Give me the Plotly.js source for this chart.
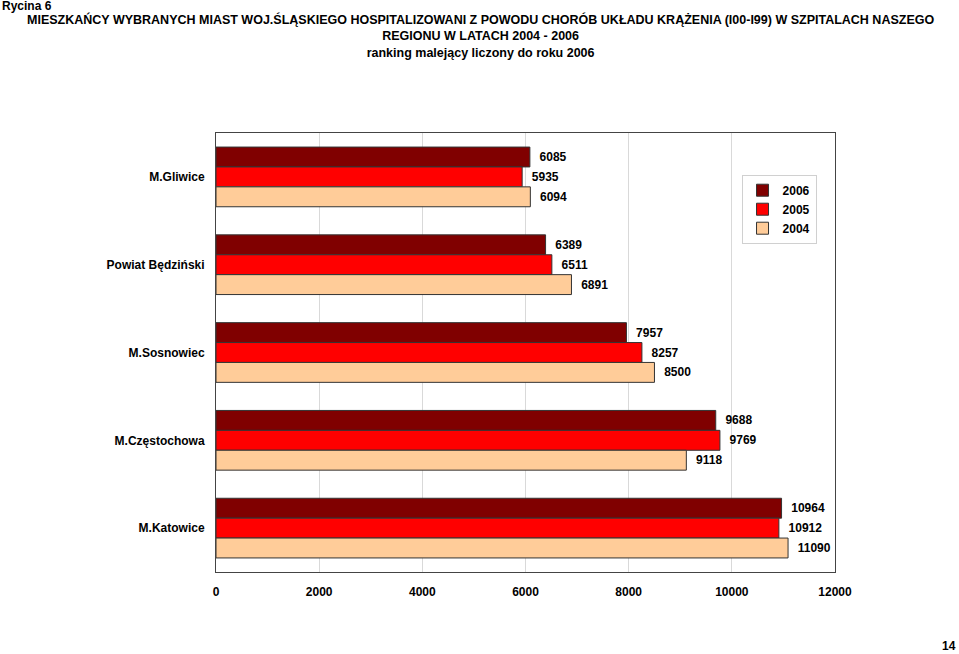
<!DOCTYPE html>
<html>
<head>
<meta charset="utf-8">
<script src="https://cdn.plot.ly/plotly-3.0.1.min.js"></script>
<style>html,body{margin:0;padding:0;background:#fff;}#chart{width:959px;height:654px;}</style>
</head>
<body>
<div id="chart"></div>
<script>
const categories = ["M.Gliwice", "Powiat Będziński", "M.Sosnowiec", "M.Częstochowa", "M.Katowice"];
const seriesNames = ["2006", "2005", "2004"];
const values2006 = [6085, 6389, 7957, 9688, 10964];
const values2005 = [5935, 6511, 8257, 9769, 10912];
const values2004 = [6094, 6891, 8500, 9118, 11090];
const colors = ["#800000", "#FF0000", "#FFCC99"];
const xTicks = [0, 2000, 4000, 6000, 8000, 10000, 12000];

const allValues = [values2006, values2005, values2004];
const font = "Liberation Sans, Arial, sans-serif";

const traces = allValues.map((vals, i) => ({
  type: "bar",
  orientation: "h",
  name: seriesNames[i],
  y: categories,
  x: vals,
  text: vals.map(String),
  texttemplate: "  %{text}",
  textposition: "outside",
  cliponaxis: false,
  textfont: {family: font, size: 12, color: "#000", weight: "bold"},
  marker: {color: colors[i], line: {color: "#333", width: 1}},
  hoverinfo: "none"
}));

const layout = {
  width: 959, height: 654,
  margin: {l: 216, r: 124, t: 133, b: 82},
  paper_bgcolor: "#fff", plot_bgcolor: "#fff",
  barmode: "group",
  bargap: 0.32,
  bargroupgap: 0,
  showlegend: true,
  legend: {
    x: 0.849, y: 0.905, xanchor: "left", yanchor: "top",
    bordercolor: "#d0d0d0", borderwidth: 1,
    font: {family: font, size: 12, color: "#000", weight: "bold"},
    tracegroupgap: 2, itemwidth: 30
  },
  xaxis: {
    range: [0, 12000],
    tickvals: xTicks,
    ticktext: xTicks.map(String),
    showgrid: true, gridcolor: "#d9d9d9", gridwidth: 1,
    zeroline: false,
    showline: true, linecolor: "#444", linewidth: 1, mirror: true,
    ticks: "", ticklabelstandoff: 9,
    tickfont: {family: font, size: 12, color: "#000", weight: "bold"}
  },
  yaxis: {
    autorange: "reversed",
    showgrid: false,
    showline: true, linecolor: "#444", linewidth: 1, mirror: true,
    ticks: "", ticklabelstandoff: 8,
    tickfont: {family: font, size: 12, color: "#000", weight: "bold"}
  },
  annotations: [
    {xref: "paper", yref: "paper", x: -216/619, y: 1 + (133 + 3)/439, xanchor: "left", yanchor: "top",
     text: "Rycina 6", showarrow: false, font: {family: font, size: 12, color: "#000", weight: "bold"}},
    {xref: "paper", yref: "paper", x: (480 - 216)/619, y: 1 + (133 - 10)/439, xanchor: "center", yanchor: "top",
     text: "MIESZKAŃCY WYBRANYCH MIAST WOJ.ŚLĄSKIEGO HOSPITALIZOWANI Z POWODU CHORÓB UKŁADU KRĄŻENIA (I00-I99) W SZPITALACH NASZEGO<br>REGIONU W LATACH 2004 - 2006<br>ranking malejący liczony do roku 2006",
     showarrow: false, align: "center",
     font: {family: font, size: 12.5, color: "#000", weight: "bold"}},
    {xref: "paper", yref: "paper", x: (958 - 216)/619, y: -(655 - 572)/439, xanchor: "right", yanchor: "bottom",
     text: "14", showarrow: false, font: {family: font, size: 12, color: "#000", weight: "bold"}}
  ]
};

Plotly.newPlot("chart", traces, layout, {displayModeBar: false, staticPlot: true});
</script>
</body>
</html>
